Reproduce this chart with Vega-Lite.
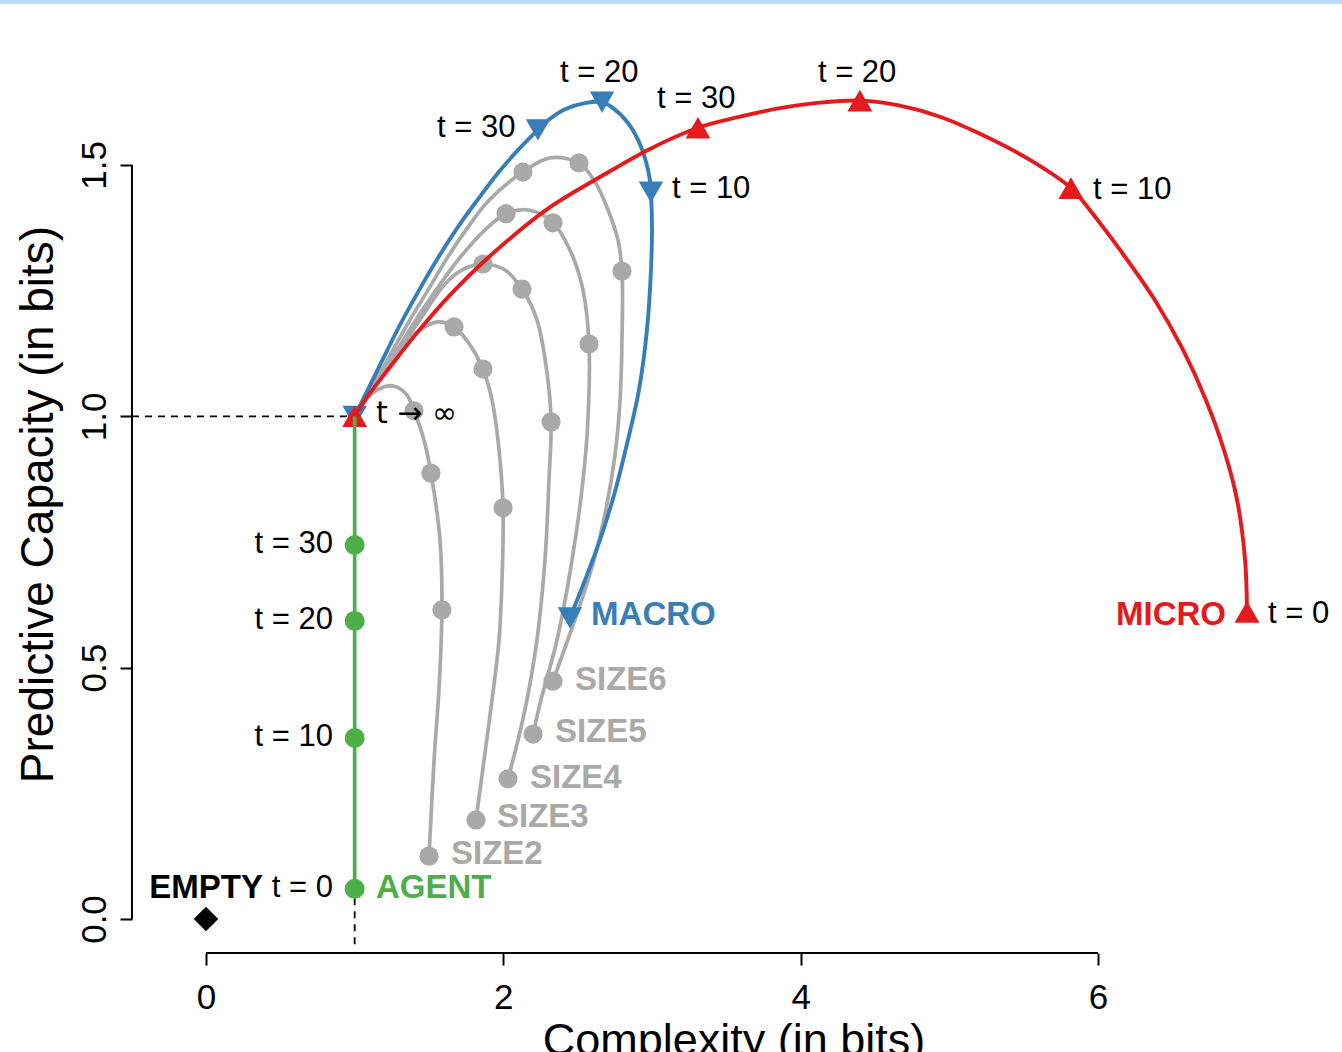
{
  "$schema": "https://vega.github.io/schema/vega-lite/v6.json",
  "width": 1342,
  "height": 1052,
  "autosize": {"type": "none"},
  "padding": 0,
  "background": "white",
  "config": {"view": {"stroke": null}, "font": "Liberation Sans", "text": {"font": "Liberation Sans"}, "axis": {"grid": false}},
  "datasets": {
    "gray_curves": [
      {"series":"SIZE2","i":1,"x":1.500,"y":0.125},{"series":"SIZE2","i":2,"x":1.534,"y":0.316},{"series":"SIZE2","i":3,"x":1.567,"y":0.456},{"series":"SIZE2","i":4,"x":1.587,"y":0.615},{"series":"SIZE2","i":5,"x":1.574,"y":0.754},{"series":"SIZE2","i":6,"x":1.513,"y":0.887},{"series":"SIZE2","i":7,"x":1.466,"y":0.953},{"series":"SIZE2","i":8,"x":1.399,"y":1.011},{"series":"SIZE2","i":9,"x":1.352,"y":1.042},{"series":"SIZE2","i":10,"x":1.285,"y":1.058},{"series":"SIZE2","i":11,"x":1.217,"y":1.060},{"series":"SIZE2","i":12,"x":1.150,"y":1.052},{"series":"SIZE2","i":13,"x":1.083,"y":1.036},{"series":"SIZE2","i":14,"x":1.0,"y":1.0},
      {"series":"SIZE3","i":1,"x":1.816,"y":0.197},{"series":"SIZE3","i":2,"x":1.870,"y":0.316},{"series":"SIZE3","i":3,"x":1.924,"y":0.436},{"series":"SIZE3","i":4,"x":1.971,"y":0.555},{"series":"SIZE3","i":5,"x":1.991,"y":0.674},{"series":"SIZE3","i":6,"x":1.998,"y":0.818},{"series":"SIZE3","i":7,"x":1.971,"y":0.933},{"series":"SIZE3","i":8,"x":1.924,"y":1.032},{"series":"SIZE3","i":9,"x":1.863,"y":1.094},{"series":"SIZE3","i":10,"x":1.776,"y":1.142},{"series":"SIZE3","i":11,"x":1.668,"y":1.178},{"series":"SIZE3","i":12,"x":1.561,"y":1.188},{"series":"SIZE3","i":13,"x":1.460,"y":1.176},{"series":"SIZE3","i":14,"x":1.372,"y":1.156},{"series":"SIZE3","i":15,"x":1.291,"y":1.128},{"series":"SIZE3","i":16,"x":1.211,"y":1.096},{"series":"SIZE3","i":17,"x":1.137,"y":1.062},{"series":"SIZE3","i":18,"x":1.069,"y":1.032},{"series":"SIZE3","i":19,"x":1.0,"y":1.0},
      {"series":"SIZE4","i":1,"x":2.031,"y":0.279},{"series":"SIZE4","i":2,"x":2.099,"y":0.356},{"series":"SIZE4","i":3,"x":2.159,"y":0.436},{"series":"SIZE4","i":4,"x":2.226,"y":0.555},{"series":"SIZE4","i":5,"x":2.280,"y":0.714},{"series":"SIZE4","i":6,"x":2.307,"y":0.873},{"series":"SIZE4","i":7,"x":2.321,"y":0.989},{"series":"SIZE4","i":8,"x":2.294,"y":1.086},{"series":"SIZE4","i":9,"x":2.226,"y":1.192},{"series":"SIZE4","i":10,"x":2.126,"y":1.253},{"series":"SIZE4","i":11,"x":2.011,"y":1.291},{"series":"SIZE4","i":12,"x":1.863,"y":1.303},{"series":"SIZE4","i":13,"x":1.749,"y":1.295},{"series":"SIZE4","i":14,"x":1.655,"y":1.277},{"series":"SIZE4","i":15,"x":1.574,"y":1.251},{"series":"SIZE4","i":16,"x":1.439,"y":1.192},{"series":"SIZE4","i":17,"x":1.298,"y":1.132},{"series":"SIZE4","i":18,"x":1.164,"y":1.072},{"series":"SIZE4","i":19,"x":1.0,"y":1.0},
      {"series":"SIZE5","i":1,"x":2.200,"y":0.368},{"series":"SIZE5","i":2,"x":2.253,"y":0.436},{"series":"SIZE5","i":3,"x":2.361,"y":0.555},{"series":"SIZE5","i":4,"x":2.462,"y":0.714},{"series":"SIZE5","i":5,"x":2.536,"y":0.873},{"series":"SIZE5","i":6,"x":2.569,"y":0.993},{"series":"SIZE5","i":7,"x":2.576,"y":1.144},{"series":"SIZE5","i":8,"x":2.536,"y":1.251},{"series":"SIZE5","i":9,"x":2.448,"y":1.331},{"series":"SIZE5","i":10,"x":2.334,"y":1.385},{"series":"SIZE5","i":11,"x":2.179,"y":1.410},{"series":"SIZE5","i":12,"x":2.018,"y":1.403},{"series":"SIZE5","i":13,"x":1.877,"y":1.371},{"series":"SIZE5","i":14,"x":1.695,"y":1.311},{"series":"SIZE5","i":15,"x":1.547,"y":1.251},{"series":"SIZE5","i":16,"x":1.413,"y":1.192},{"series":"SIZE5","i":17,"x":1.285,"y":1.132},{"series":"SIZE5","i":18,"x":1.157,"y":1.072},{"series":"SIZE5","i":19,"x":1.0,"y":1.0},
      {"series":"SIZE6","i":1,"x":2.334,"y":0.473},{"series":"SIZE6","i":2,"x":2.421,"y":0.545},{"series":"SIZE6","i":3,"x":2.516,"y":0.625},{"series":"SIZE6","i":4,"x":2.610,"y":0.714},{"series":"SIZE6","i":5,"x":2.690,"y":0.814},{"series":"SIZE6","i":6,"x":2.751,"y":0.923},{"series":"SIZE6","i":7,"x":2.785,"y":1.032},{"series":"SIZE6","i":8,"x":2.798,"y":1.152},{"series":"SIZE6","i":9,"x":2.798,"y":1.289},{"series":"SIZE6","i":10,"x":2.771,"y":1.351},{"series":"SIZE6","i":11,"x":2.697,"y":1.416},{"series":"SIZE6","i":12,"x":2.617,"y":1.466},{"series":"SIZE6","i":13,"x":2.509,"y":1.504},{"series":"SIZE6","i":14,"x":2.314,"y":1.514},{"series":"SIZE6","i":15,"x":2.132,"y":1.486},{"series":"SIZE6","i":16,"x":1.904,"y":1.430},{"series":"SIZE6","i":17,"x":1.749,"y":1.371},{"series":"SIZE6","i":18,"x":1.614,"y":1.311},{"series":"SIZE6","i":19,"x":1.493,"y":1.251},{"series":"SIZE6","i":20,"x":1.372,"y":1.192},{"series":"SIZE6","i":21,"x":1.258,"y":1.132},{"series":"SIZE6","i":22,"x":1.143,"y":1.072},{"series":"SIZE6","i":23,"x":1.0,"y":1.0}
    ],
    "gray_points": [
      {"series":"SIZE2","t":0,"x":1.500,"y":0.125},{"series":"SIZE2","t":10,"x":1.587,"y":0.615},{"series":"SIZE2","t":20,"x":1.513,"y":0.887},{"series":"SIZE2","t":30,"x":1.399,"y":1.011},
      {"series":"SIZE3","t":0,"x":1.816,"y":0.197},{"series":"SIZE3","t":10,"x":1.998,"y":0.818},{"series":"SIZE3","t":20,"x":1.863,"y":1.094},{"series":"SIZE3","t":30,"x":1.668,"y":1.178},
      {"series":"SIZE4","t":0,"x":2.031,"y":0.279},{"series":"SIZE4","t":10,"x":2.321,"y":0.989},{"series":"SIZE4","t":20,"x":2.126,"y":1.253},{"series":"SIZE4","t":30,"x":1.863,"y":1.303},
      {"series":"SIZE5","t":0,"x":2.200,"y":0.368},{"series":"SIZE5","t":10,"x":2.576,"y":1.144},{"series":"SIZE5","t":20,"x":2.334,"y":1.385},{"series":"SIZE5","t":30,"x":2.018,"y":1.403},
      {"series":"SIZE6","t":0,"x":2.334,"y":0.473},{"series":"SIZE6","t":10,"x":2.798,"y":1.289},{"series":"SIZE6","t":20,"x":2.509,"y":1.504},{"series":"SIZE6","t":30,"x":2.132,"y":1.486}
    ],
    "macro_curve": [
      {"i":1,"x":2.448,"y":0.599},{"i":2,"x":2.549,"y":0.674},{"i":3,"x":2.650,"y":0.754},{"i":4,"x":2.744,"y":0.843},{"i":5,"x":2.838,"y":0.953},{"i":6,"x":2.912,"y":1.052},{"i":7,"x":2.966,"y":1.172},{"i":8,"x":2.993,"y":1.291},{"i":9,"x":3.000,"y":1.371},{"i":10,"x":2.993,"y":1.446},{"i":11,"x":2.986,"y":1.470},{"i":12,"x":2.960,"y":1.506},{"i":13,"x":2.906,"y":1.550},{"i":14,"x":2.832,"y":1.586},{"i":15,"x":2.738,"y":1.613},{"i":16,"x":2.664,"y":1.625},{"i":17,"x":2.549,"y":1.623},{"i":18,"x":2.415,"y":1.611},{"i":19,"x":2.314,"y":1.592},{"i":20,"x":2.233,"y":1.570},{"i":21,"x":2.099,"y":1.530},{"i":22,"x":1.964,"y":1.484},{"i":23,"x":1.830,"y":1.432},{"i":24,"x":1.695,"y":1.377},{"i":25,"x":1.560,"y":1.315},{"i":26,"x":1.426,"y":1.247},{"i":27,"x":1.291,"y":1.174},{"i":28,"x":1.157,"y":1.094},{"i":29,"x":1.0,"y":1.0}
    ],
    "macro_points": [
      {"t":"0","x":2.448,"y":0.599},{"t":"10","x":2.993,"y":1.446},{"t":"20","x":2.664,"y":1.625},{"t":"30","x":2.233,"y":1.570},{"t":"inf","x":1.0,"y":1.0}
    ],
    "micro_curve": [
      {"i":1,"x":7.002,"y":0.611},{"i":2,"x":6.989,"y":0.714},{"i":3,"x":6.935,"y":0.834},{"i":4,"x":6.847,"y":0.933},{"i":5,"x":6.726,"y":1.032},{"i":6,"x":6.572,"y":1.132},{"i":7,"x":6.383,"y":1.231},{"i":8,"x":6.148,"y":1.331},{"i":9,"x":5.946,"y":1.410},{"i":10,"x":5.818,"y":1.454},{"i":11,"x":5.542,"y":1.510},{"i":12,"x":5.206,"y":1.562},{"i":13,"x":4.937,"y":1.596},{"i":14,"x":4.668,"y":1.618},{"i":15,"x":4.398,"y":1.628},{"i":16,"x":4.130,"y":1.624},{"i":17,"x":3.861,"y":1.613},{"i":18,"x":3.592,"y":1.596},{"i":19,"x":3.309,"y":1.574},{"i":20,"x":2.986,"y":1.532},{"i":21,"x":2.650,"y":1.476},{"i":22,"x":2.314,"y":1.416},{"i":23,"x":1.910,"y":1.319},{"i":24,"x":1.641,"y":1.241},{"i":25,"x":1.419,"y":1.166},{"i":26,"x":1.238,"y":1.098},{"i":27,"x":1.083,"y":1.038},{"i":28,"x":1.0,"y":1.0}
    ],
    "micro_points": [
      {"t":"0","x":7.002,"y":0.611},{"t":"10","x":5.818,"y":1.454},{"t":"20","x":4.398,"y":1.628},{"t":"30","x":3.309,"y":1.574},{"t":"inf","x":1.0,"y":1.0}
    ],
    "agent_line": [{"i":1,"x":1.0,"y":0.06},{"i":2,"x":1.0,"y":1.0}],
    "agent_points": [{"t":"0","x":1.0,"y":0.06},{"t":"10","x":1.0,"y":0.36},{"t":"20","x":1.0,"y":0.593},{"t":"30","x":1.0,"y":0.744}],
    "empty_point": [{"t":"0","x":0,"y":0}],
    "guides": [{"x":-0.498,"y":1.0,"x2":1.0,"y2":1.0},{"x":1.0,"y":-0.05,"x2":1.0,"y2":1.0}],
    "time_labels": [
      {"series":"MACRO","text":"t = 10","x":3.134,"y":1.434},
      {"series":"MACRO","text":"t = 20","x":2.381,"y":1.665},
      {"series":"MACRO","text":"t = 30","x":1.554,"y":1.556},
      {"series":"MICRO","text":"t = 0","x":7.143,"y":0.589},
      {"series":"MICRO","text":"t = 10","x":5.966,"y":1.432},
      {"series":"MICRO","text":"t = 20","x":4.116,"y":1.665},
      {"series":"MICRO","text":"t = 30","x":3.034,"y":1.613},
      {"series":"LIMIT","text":"t → ∞","x":1.143,"y":0.987},
      {"series":"AGENT","text":"t = 0","x":0.854,"y":0.044},
      {"series":"AGENT","text":"t = 10","x":0.854,"y":0.344},
      {"series":"AGENT","text":"t = 20","x":0.854,"y":0.577},
      {"series":"AGENT","text":"t = 30","x":0.854,"y":0.728}
    ],
    "name_labels": [
      {"series":"EMPTY","x":0.383,"y":0.042},
      {"series":"AGENT","x":1.143,"y":0.042},
      {"series":"MACRO","x":2.590,"y":0.585},
      {"series":"MICRO","x":6.861,"y":0.585},
      {"series":"SIZE2","x":1.648,"y":0.109},
      {"series":"SIZE3","x":1.957,"y":0.183},
      {"series":"SIZE4","x":2.179,"y":0.261},
      {"series":"SIZE5","x":2.347,"y":0.352},
      {"series":"SIZE6","x":2.482,"y":0.456}
    ]
  },
  "layer": [
    {
      "data": {"name": "guides"},
      "mark": {"type": "rule", "strokeDash": [7, 6], "strokeWidth": 1.8, "color": "black"},
      "encoding": {
        "x": {"field": "x", "type": "quantitative",
          "scale": {"domain": [-1.3856, 7.641], "nice": false, "zero": false},
          "axis": {"values": [0, 2, 4, 6], "format": "d", "domain": false, "tickSize": 12, "tickWidth": 2, "tickColor": "black",
            "labelFontSize": 35, "labelColor": "black", "labelFont": "Liberation Sans", "labelPadding": 43, "labelBaseline": "alphabetic",
            "labelAlign": "center", "labelFlush": false, "labelOverlap": false, "offset": -99,
            "title": "Complexity (in bits)", "titleFont": "Liberation Sans", "titleFontSize": 45, "titleFontWeight": "normal", "titleColor": "black",
            "titleX": 733.5, "titleY": 101, "titleAlign": "center", "titleBaseline": "alphabetic"}},
        "y": {"field": "y", "type": "quantitative",
          "scale": {"domain": [-0.2646, 1.8282], "nice": false, "zero": false},
          "axis": {"values": [0, 0.5, 1, 1.5], "format": ".1f", "domain": false, "tickSize": 12, "tickWidth": 2, "tickColor": "black",
            "labelFontSize": 35, "labelColor": "black", "labelFont": "Liberation Sans", "labelAngle": 270, "labelAlign": "center", "labelBaseline": "alphabetic",
            "labelPadding": 15, "labelFlush": false, "labelOverlap": false, "offset": -132,
            "title": "Predictive Capacity (in bits)", "titleFont": "Liberation Sans", "titleFontSize": 46, "titleFontWeight": "normal", "titleColor": "black",
            "titleAngle": 270, "titleX": -80, "titleY": 504, "titleAlign": "center", "titleBaseline": "alphabetic"}},
        "x2": {"field": "x2"},
        "y2": {"field": "y2"}
      }
    },
    {
      "data": {"values": [{}]},
      "mark": {"type": "rule", "strokeWidth": 2, "color": "black"},
      "encoding": {"x": {"datum": 0}, "x2": {"datum": 6}, "y": {"datum": -0.0676}}
    },
    {
      "data": {"values": [{}]},
      "mark": {"type": "rule", "strokeWidth": 2, "color": "black"},
      "encoding": {"x": {"datum": -0.498}, "y": {"datum": 0}, "y2": {"datum": 1.5}}
    },
    {
      "data": {"values": [{}]},
      "mark": {"type": "rule", "strokeWidth": 8, "color": "#b6dcf6"},
      "encoding": {"y": {"datum": 1.8282}}
    },
    {
      "data": {"name": "gray_curves"},
      "mark": {"type": "line", "interpolate": "catmull-rom", "strokeWidth": 3.7, "color": "#a9a9a9"},
      "encoding": {"x": {"field": "x", "type": "quantitative"}, "y": {"field": "y", "type": "quantitative"}, "detail": {"field": "series"}, "order": {"field": "i", "type": "quantitative"}}
    },
    {
      "data": {"name": "gray_points"},
      "mark": {"type": "point", "shape": "circle", "filled": true, "size": 370, "color": "#a9a9a9", "opacity": 1},
      "encoding": {"x": {"field": "x", "type": "quantitative"}, "y": {"field": "y", "type": "quantitative"}}
    },
    {
      "data": {"name": "macro_curve"},
      "mark": {"type": "line", "interpolate": "catmull-rom", "strokeWidth": 3.9, "color": "#377eb8"},
      "encoding": {"x": {"field": "x", "type": "quantitative"}, "y": {"field": "y", "type": "quantitative"}, "order": {"field": "i", "type": "quantitative"}}
    },
    {
      "data": {"name": "macro_points"},
      "mark": {"type": "point", "shape": "triangle-down", "filled": true, "size": 600, "color": "#377eb8", "opacity": 1},
      "encoding": {"x": {"field": "x", "type": "quantitative"}, "y": {"field": "y", "type": "quantitative"}}
    },
    {
      "data": {"name": "micro_curve"},
      "mark": {"type": "line", "interpolate": "catmull-rom", "strokeWidth": 3.9, "color": "#e41a1c"},
      "encoding": {"x": {"field": "x", "type": "quantitative"}, "y": {"field": "y", "type": "quantitative"}, "order": {"field": "i", "type": "quantitative"}}
    },
    {
      "data": {"name": "micro_points"},
      "mark": {"type": "point", "shape": "triangle-up", "filled": true, "size": 620, "color": "#e41a1c", "opacity": 1},
      "encoding": {"x": {"field": "x", "type": "quantitative"}, "y": {"field": "y", "type": "quantitative"}}
    },
    {
      "data": {"name": "agent_line"},
      "mark": {"type": "line", "strokeWidth": 3.7, "color": "#4daf4a"},
      "encoding": {"x": {"field": "x", "type": "quantitative"}, "y": {"field": "y", "type": "quantitative"}, "order": {"field": "i", "type": "quantitative"}}
    },
    {
      "data": {"name": "agent_points"},
      "mark": {"type": "point", "shape": "circle", "filled": true, "size": 400, "color": "#4daf4a", "opacity": 1},
      "encoding": {"x": {"field": "x", "type": "quantitative"}, "y": {"field": "y", "type": "quantitative"}}
    },
    {
      "data": {"name": "empty_point"},
      "mark": {"type": "point", "shape": "diamond", "filled": true, "size": 600, "color": "black", "opacity": 1},
      "encoding": {"x": {"field": "x", "type": "quantitative"}, "y": {"field": "y", "type": "quantitative"}}
    },
    {
      "data": {"name": "time_labels"},
      "transform": [{"filter": "datum.series !== 'AGENT' && datum.series !== 'LIMIT'"}],
      "mark": {"type": "text", "align": "left", "baseline": "alphabetic", "fontSize": 31, "font": "Liberation Sans", "color": "black"},
      "encoding": {"x": {"field": "x", "type": "quantitative"}, "y": {"field": "y", "type": "quantitative"}, "text": {"field": "text"}}
    },
    {
      "data": {"name": "time_labels"},
      "transform": [{"filter": "datum.series === 'LIMIT'"}],
      "mark": {"type": "text", "align": "left", "baseline": "alphabetic", "fontSize": 30, "font": "DejaVu Sans", "color": "black"},
      "encoding": {"x": {"field": "x", "type": "quantitative"}, "y": {"field": "y", "type": "quantitative"}, "text": {"field": "text"}}
    },
    {
      "data": {"name": "time_labels"},
      "transform": [{"filter": "datum.series === 'AGENT'"}],
      "mark": {"type": "text", "align": "right", "baseline": "alphabetic", "fontSize": 31, "font": "Liberation Sans", "color": "black"},
      "encoding": {"x": {"field": "x", "type": "quantitative"}, "y": {"field": "y", "type": "quantitative"}, "text": {"field": "text"}}
    },
    {
      "data": {"name": "name_labels"},
      "transform": [{"filter": "datum.series !== 'EMPTY' && datum.series !== 'MICRO'"}],
      "mark": {"type": "text", "align": "left", "baseline": "alphabetic", "fontSize": 33, "fontWeight": "bold", "font": "Liberation Sans"},
      "encoding": {"x": {"field": "x", "type": "quantitative"}, "y": {"field": "y", "type": "quantitative"}, "text": {"field": "series"},
        "color": {"field": "series", "type": "nominal", "legend": null,
          "scale": {"domain": ["EMPTY","AGENT","MACRO","MICRO","SIZE2","SIZE3","SIZE4","SIZE5","SIZE6"], "range": ["#000000","#4daf4a","#377eb8","#e41a1c","#a9a9a9","#a9a9a9","#a9a9a9","#a9a9a9","#a9a9a9"]}}}
    },
    {
      "data": {"name": "name_labels"},
      "transform": [{"filter": "datum.series === 'EMPTY' || datum.series === 'MICRO'"}],
      "mark": {"type": "text", "align": "right", "baseline": "alphabetic", "fontSize": 33, "fontWeight": "bold", "font": "Liberation Sans"},
      "encoding": {"x": {"field": "x", "type": "quantitative"}, "y": {"field": "y", "type": "quantitative"}, "text": {"field": "series"},
        "color": {"field": "series", "type": "nominal", "legend": null}}
    }
  ]
}
